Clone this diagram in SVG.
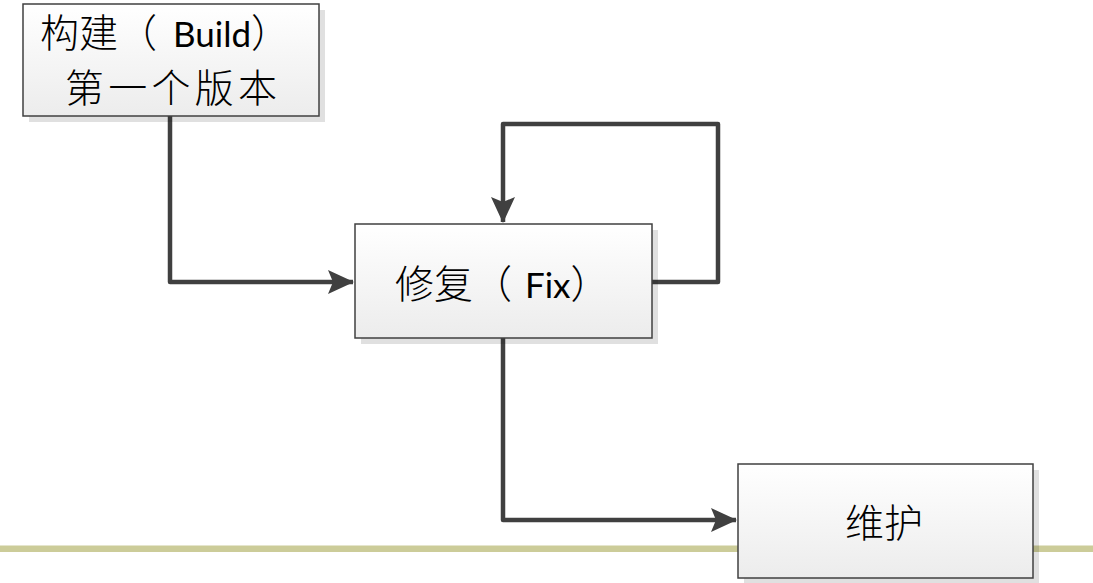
<svg xmlns="http://www.w3.org/2000/svg" width="1093" height="583" viewBox="0 0 1093 583">
<style>
.box{fill:url(#g);stroke:#404040;stroke-width:1.5}
.shadow{fill:#000;fill-opacity:0.12}
.cjk{font-family:"Noto Sans CJK SC","Noto Sans",sans-serif;font-size:39px;font-weight:300;fill:#000}
.lat{font-family:Lato,"Open Sans",sans-serif;font-weight:400;font-size:35px}
.conn{fill:none;stroke:#404040;stroke-width:4.5;stroke-linejoin:round}
</style>
<defs>
<linearGradient id="g" x1="0" y1="0" x2="0" y2="1">
<stop offset="0" stop-color="#ffffff"/>
<stop offset="1" stop-color="#ececec"/>
</linearGradient>
<marker id="arr" viewBox="0 0 26 24" refX="25" refY="12" markerWidth="26" markerHeight="24" markerUnits="userSpaceOnUse" orient="auto">
<path d="M0,0 L26,12 L0,24 L5,12 Z" fill="#404040"/>
</marker>
</defs>
<rect x="0" y="545.5" width="1093" height="6.5" fill="#cccc99"/>
<g id="connectors">
<path class="conn" d="M170,116 V282 H353" marker-end="url(#arr)"/>
<path class="conn" d="M651,282 H718 V124 H503 V222" marker-end="url(#arr)"/>
<path class="conn" d="M503,338 V520 H736" marker-end="url(#arr)"/>
</g>
<g id="build">
<rect class="shadow" x="29" y="10" width="296" height="112"/>
<rect class="box" x="23" y="4" width="296" height="112"/>
<text class="cjk" x="40" y="47">构建（<tspan class="lat" x="173">Build</tspan>）</text>
<text class="cjk" x="65" y="102" textLength="212">第一个版本</text>
</g>
<g id="fix">
<rect class="shadow" x="361" y="230" width="297" height="114"/>
<rect class="box" x="355" y="224" width="297" height="114"/>
<text class="cjk" x="395" y="298">修复（<tspan class="lat" x="525">Fix</tspan>）</text>
</g>
<g id="maintain">
<rect class="shadow" x="744" y="470" width="295" height="114"/>
<rect class="box" x="738" y="464" width="295" height="114"/>
<text class="cjk" x="845" y="537" font-size="42">维护</text>
</g>
</svg>
